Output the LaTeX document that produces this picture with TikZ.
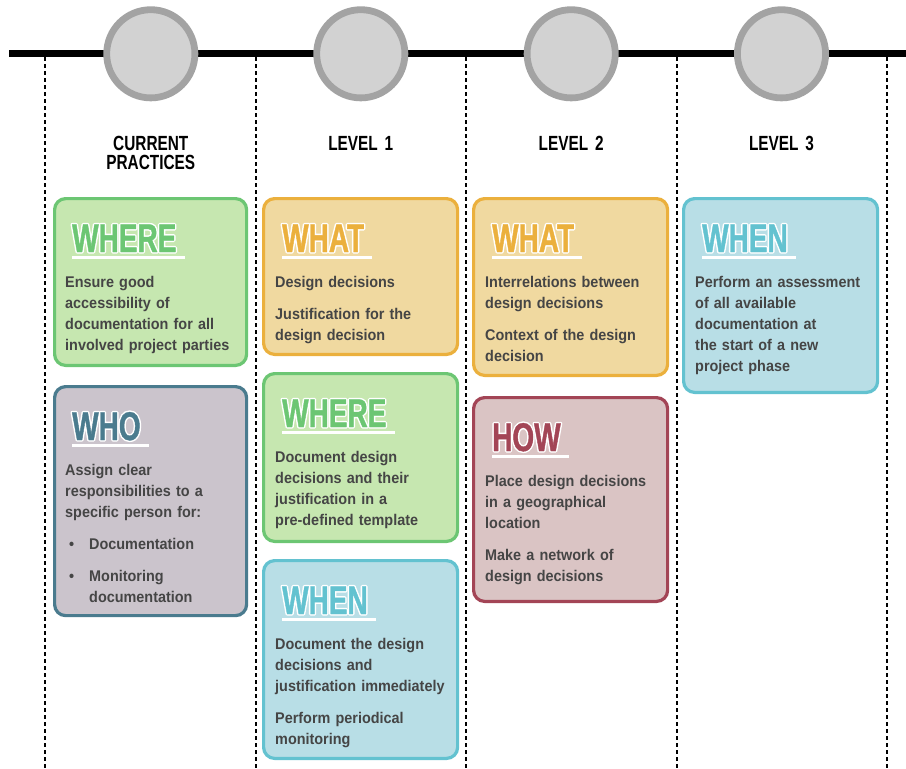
\documentclass[tikz,border=0pt]{standalone}
\usepackage{fontspec}
\setmainfont{Liberation Sans}
\newfontfamily\titlefont{Liberation Sans}[FakeStretch=0.70]
\newfontfamily\titlefontB{Liberation Sans}[FakeStretch=0.70, FakeBold=1]
\newfontfamily\headfont{Liberation Sans}[FakeStretch=0.75]
\newfontfamily\bodyfont{Liberation Sans}[FakeStretch=0.93]
\definecolor{grnF}{HTML}{C6E7B0}\definecolor{grnB}{HTML}{6CC673}
\definecolor{orgF}{HTML}{F0D9A0}\definecolor{orgB}{HTML}{EBB03D}
\definecolor{bluF}{HTML}{B8DEE6}\definecolor{bluB}{HTML}{63C2D0}
\definecolor{purF}{HTML}{CBC4CC}\definecolor{purB}{HTML}{4A7B8E}
\definecolor{redF}{HTML}{DAC4C4}\definecolor{redB}{HTML}{A34556}
\definecolor{txt}{HTML}{454545}
\definecolor{circB}{HTML}{A3A3A3}\definecolor{circF}{HTML}{D2D2D2}
\newcommand\outlined[2]{\rlap{\textcolor{white}{\titlefont\bfseries\special{pdf:literal direct 2 Tr 1 1 1 RG 1 j 1 J 3.4 w}#2\special{pdf:literal direct 0 Tr 0 j 0 J}}}\textcolor{#1}{\titlefontB\bfseries #2}}
\newcommand\bul{\makebox[24pt][l]{\hspace{4pt}\textbullet}}
\begin{document}
\begin{tikzpicture}[x=1pt,y=-1pt,
  vline/.style={dashed, dash pattern=on 4pt off 3pt, line width=1.1pt, black},
  stage/.style={circle, draw=circB, fill=circF, line width=6.8pt, minimum size=88.2pt, inner sep=0pt},
  head/.style={font=\headfont\bfseries\fontsize{20.5}{19}\selectfont, text width=140pt, align=center, inner sep=0pt, anchor=base},
  card/.style 2 args={draw=#1, fill=#2, line width=3.2pt, rounded corners=11pt},
  ttl/.style={font=\fontsize{40}{40}\selectfont, inner sep=0pt, anchor=base west},
  uline/.style={draw=white, line width=3.5pt},
  body/.style={font=\bodyfont\bfseries\fontsize{15.5}{21}\selectfont, text=txt, text width=186pt, align=left, inner sep=0pt, anchor=base west}
]
\useasboundingbox (0,0) rectangle (906,769);
% timeline
\coordinate (tl0) at (9,53.5);
\coordinate (tl1) at (906,53.5);
\draw[line width=6.5pt, black] (tl0) -- (tl1);
% dashed separators
\foreach \x/\n in {45/a,256/b,466/c,677/d,887/e}{
  \coordinate (s\n0) at (\x,57);
  \coordinate (s\n1) at (\x,769);
  \draw[vline] (s\n0) -- (s\n1);
}
% stage circles
\node[stage] (c1) at (150.8,53.8) {};
\node[stage] (c2) at (360.8,53.8) {};
\node[stage] (c3) at (571.2,53.8) {};
\node[stage] (c4) at (781.5,53.8) {};
% headings
\node[head] (h1) at (150.8,150) {CURRENT\\PRACTICES};
\node[head] (h2) at (360.8,150) {LEVEL 1};
\node[head] (h3) at (571.2,150) {LEVEL 2};
\node[head] (h4) at (781.5,150) {LEVEL 3};
% cards
\draw[card={grnB}{grnF}] (54.6,198.6) rectangle (246.6,365.4);
\draw[card={purB}{purF}] (54.6,386.6) rectangle (246.6,615.6);
\draw[card={orgB}{orgF}] (263.6,198.6) rectangle (457.6,354.4);
\draw[card={grnB}{grnF}] (263.6,373.6) rectangle (457.6,541.4);
\draw[card={bluB}{bluF}] (263.6,560.6) rectangle (457.6,758.4);
\draw[card={orgB}{orgF}] (473.6,198.6) rectangle (667.6,375.4);
\draw[card={redB}{redF}] (473.6,397.6) rectangle (667.6,601.4);
\draw[card={bluB}{bluF}] (683.6,198.6) rectangle (877.6,392.4);
% titles
\node[ttl] (t1) at (72,252) {\outlined{grnB}{WHERE}};
\node[ttl] (t2) at (72,440) {\outlined{purB}{WHO}};
\node[ttl] (t3) at (282,252) {\outlined{orgB}{WHAT}};
\node[ttl] (t4) at (282,427) {\outlined{grnB}{WHERE}};
\node[ttl] (t5) at (282,614) {\outlined{bluB}{WHEN}};
\node[ttl] (t6) at (492,252) {\outlined{orgB}{WHAT}};
\node[ttl] (t7) at (492,451) {\outlined{redB}{HOW}};
\node[ttl] (t8) at (702,252) {\outlined{bluB}{WHEN}};
\foreach \t in {t1,t2,t3,t4,t5,t6,t7,t8}{
  \draw[uline] ([yshift=-5.5pt]\t.base west) -- ([xshift=8pt,yshift=-5.5pt]\t.base east);
}
% bodies
\node[body] (x1) at (65,287) {Ensure good\\accessibility of\\documentation for all\\involved project parties};
\node[body] (x2) at (65,475) {Assign clear\\responsibilities to a\\specific person for:\\[11pt]\bul Documentation\\[11pt]\bul Monitoring\\\hspace*{24pt}documentation};
\node[body] (x3) at (275,287) {Design decisions\\[11pt]Justification for the\\design decision};
\node[body] (x4) at (275,462) {Document design\\decisions and their\\justification in a\\pre-defined template};
\node[body] (x5) at (275,649) {Document the design\\decisions and\\justification immediately\\[11pt]Perform periodical\\monitoring};
\node[body] (x6) at (485,287) {Interrelations between\\design decisions\\[11pt]Context of the design\\decision};
\node[body] (x7) at (485,486) {Place design decisions\\in a geographical\\location\\[11pt]Make a network of\\design decisions};
\node[body] (x8) at (695,287) {Perform an assessment\\of all available\\documentation at\\the start of a new\\project phase};
\end{tikzpicture}
\end{document}
